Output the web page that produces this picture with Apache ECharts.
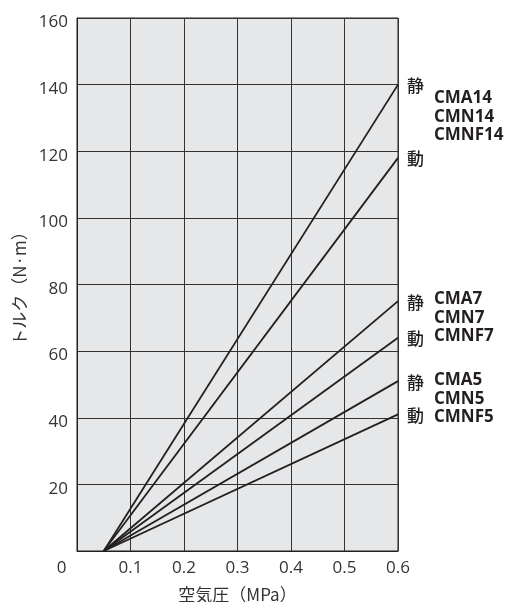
<!DOCTYPE html>
<html>
<head>
<meta charset="utf-8">
<script src="https://cdn.jsdelivr.net/npm/echarts@6/dist/echarts.min.js"></script>
<style>
  html, body { margin: 0; padding: 0; background: #fff; }
  #main { width: 507px; height: 602px; }
</style>
</head>
<body>
<div id="main"></div>
<script>
// 起点（空気圧）と 0.6MPa 時のトルク
var startX = 0.05;
var endX = 0.6;
var seriesNames = ['CMA14 静', 'CMA14 動', 'CMA7 静', 'CMA7 動', 'CMA5 静', 'CMA5 動'];
var endTorque = [140, 118, 75, 64, 51, 41];
var kindLabels = ['静', '動', '静', '動', '静', '動'];
var xTicks = [0, 0.1, 0.2, 0.3, 0.4, 0.5, 0.6];
var yTicks = [0, 20, 40, 60, 80, 100, 120, 140, 160];

var chart = echarts.init(document.getElementById('main'), null, {renderer: 'canvas'});
var FONT = '"Noto Sans CJK JP", "Open Sans", sans-serif';
var NUMFONT = '"Open Sans", sans-serif';
var INK = '#231f20';

var series = seriesNames.map(function(name, i){
  return {
    name: name,
    type: 'line',
    data: [[startX, 0], [endX, endTorque[i]]],
    symbol: 'none',
    silent: true,
    lineStyle: { color: INK, width: 1.8 },
    endLabel: {
      show: true,
      formatter: kindLabels[i],
      distance: 9,
      fontFamily: FONT,
      fontSize: 17,
      fontWeight: 500,
      color: INK,
      offset: [0, 1]
    }
  };
});

//型式名（右側注記）
var modelGroups = [
  { y: 98, lines: ['CMA14', 'CMN14', 'CMNF14'] },
  { y: 299, lines: ['CMA7', 'CMN7', 'CMNF7'] },
  { y: 380, lines: ['CMA5', 'CMN5', 'CMNF5'] }
];
var graphics = [];
modelGroups.forEach(function(g){
  g.lines.forEach(function(t, j){
    graphics.push({
      type: 'text',
      left: 434,
      top: g.y - 8 + j * 18.5,
      style: { text: t, font: 'bold 17px "Open Sans", sans-serif', fill: INK }
    });
  });
});

chart.setOption({
  animation: false,
  grid: {
    left: 77, right: 109, top: 18, bottom: 51,
    outerBoundsMode: 'none', containLabel: false,
    show: true, backgroundColor: '#e6e7e8', borderColor: INK, borderWidth: 1
  },
  xAxis: {
    type: 'value', min: 0, max: 0.6, interval: 0.1,
    name: '空気圧（MPa）', nameLocation: 'middle', nameGap: 35,
    nameTextStyle: { fontFamily: FONT, fontSize: 17, color: '#333' },
    axisLine: { show: true, lineStyle: { color: INK } },
    axisTick: { show: false },
    splitLine: { show: true, lineStyle: { color: '#333', width: 1 } },
    axisLabel: {
      margin: 9, fontFamily: NUMFONT, fontSize: 17, color: '#333',
      showMinLabel: true, showMaxLabel: true,
      formatter: function(v){
        if (v === 0) return '{z|0}';
        return v.toFixed(1);
      },
      rich: { z: { padding: [0, 31, 0, 0], fontSize: 17, fontFamily: NUMFONT, color: '#333' } }
    }
  },
  yAxis: {
    type: 'value', min: 0, max: 160, interval: 20,
    name: 'トルク（N·m）', nameLocation: 'middle', nameRotate: 90, nameGap: 49,
    nameTextStyle: { fontFamily: FONT, fontSize: 17, color: '#333' },
    axisLine: { show: true, lineStyle: { color: INK } },
    axisTick: { show: false },
    splitLine: { show: true, lineStyle: { color: '#333', width: 1 } },
    axisLabel: {
      margin: 9, fontFamily: NUMFONT, fontSize: 17, color: '#333',
      formatter: function(v){ return v === 0 ? '' : '{n|' + v + '}'; },
      rich: { n: { padding: [9, 0, 0, 0], fontSize: 17, fontFamily: NUMFONT, color: '#333' } }
    }
  },
  series: series,
  graphic: graphics
});
</script>
</body>
</html>
